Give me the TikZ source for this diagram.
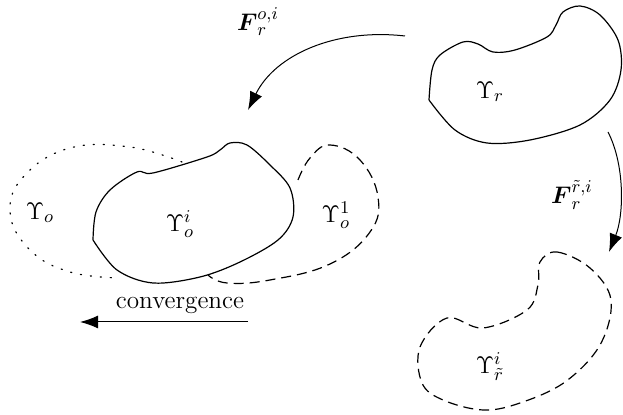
\documentclass[tikz,border=0pt]{standalone}
\usepackage{amsmath}
\usepackage{amssymb}
\usepackage{tikz}
\usetikzlibrary{arrows.meta,calc,positioning}

\begin{document}
\begin{tikzpicture}[
    x=0.5pt,
    y=-0.5pt,
    >={Latex[length=3.2mm, width=2.3mm]},
    lbl/.style={font=\fontsize{12.6}{15}\selectfont, inner sep=1pt},
    region/.style={line width=0.6pt},
    guess/.style={region, dash pattern=on 5pt off 3pt},
    prior/.style={region, dash pattern=on 0.6pt off 4.4pt, line cap=round},
    line/.style={->, line width=0.5pt}
]
\useasboundingbox (0,0) rectangle (623,415);

% regions
\draw[region] plot[smooth, tension=0.55] coordinates {(429,100) (432,70) (440,55) (463,42) (478,44) (493,52) (515,50) (547,37) (556,25) (563,12) (580,6) (600,15) (618,40) (621,70) (610,100) (580,125) (530,140) (487,143) (455,130) (429,100)};
\draw[region] plot[smooth, tension=0.55] coordinates {(93,240) (96,212) (110,190) (137,172) (153,173) (207,157) (220,150) (230,143) (247,145) (270,165) (290,188) (293,217) (278,240) (240,262) (200,277) (153,283) (117,270) (93,240)};
\draw[prior] plot[smooth, tension=0.7] coordinates {(182,162) (130,147) (70,148) (25,175) (10,212) (30,250) (70,272) (120,278)};
\draw[guess] plot[smooth, tension=0.7] coordinates {(298,180) (310,158) (330,145) (360,160) (378,197) (370,232) (330,264) (270,280) (227,283) (208,275)};
\draw[guess] plot[smooth cycle, tension=0.6] coordinates {(540,262) (557,252) (590,268) (611,300) (600,345) (565,382) (520,403) (483,410) (443,400) (422,383) (420,347) (447,318) (483,328) (527,310) (538,285)};

% labels
\node[lbl] (ur) at (490,92) {$\Upsilon_r$};
\node[lbl] (uoi) at (180,224) {$\Upsilon_o^i$};
\node[lbl] (uo) at (40,213) {$\Upsilon_o$};
\node[lbl] (uo1) at (336,215) {$\Upsilon_o^1$};
\node[lbl] (urt) at (490,367) {$\Upsilon_{\tilde r}^i$};
\node[lbl] (fo) at (258,22) {$\boldsymbol{F}_r^{o,i}$};
\node[lbl] (frt) at (572,195) {$\boldsymbol{F}_r^{\tilde r,i}$};
\node[lbl] (conv) at (180,305) {convergence};

% maps
\coordinate (fostart) at (405,36);
\coordinate (foend) at (248,110);
\coordinate (frtstart) at (608,132);
\coordinate (frtend) at (609,252);
\coordinate (convstart) at (248,322);
\coordinate (convend) at (80,322);

\draw[line] (fostart) .. controls (335,28) and (275,55) .. (foend);
\draw[line] (frtstart) .. controls (625,165) and (624,215) .. (frtend);
\draw[line] (convstart) -- (convend);
\end{tikzpicture}
\end{document}
